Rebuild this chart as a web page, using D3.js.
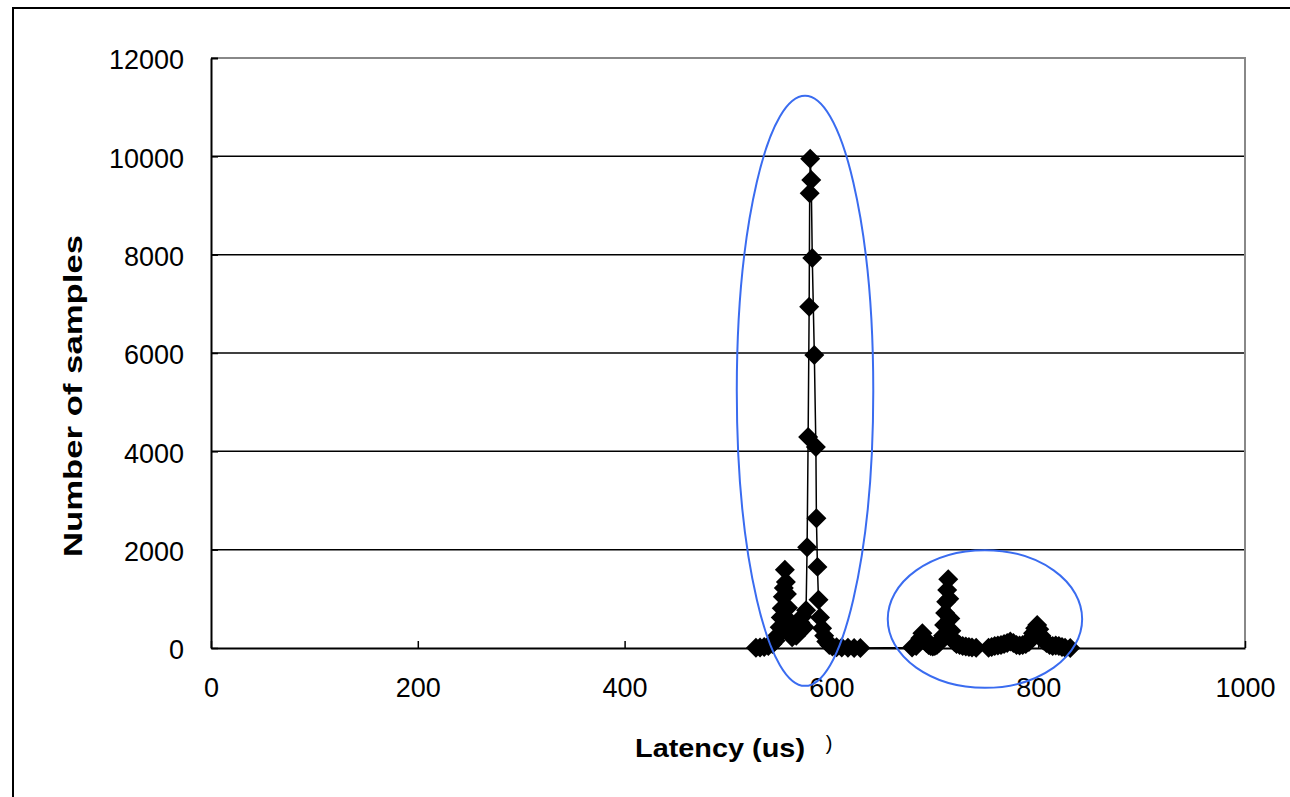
<!DOCTYPE html>
<html>
<head>
<meta charset="utf-8">
<script src="https://cdn.jsdelivr.net/npm/d3@7"></script>
<style>
body { margin: 0; background: #fff; }
svg { display: block; }
text { font-family: "Liberation Sans", Arial, sans-serif; fill: #000; }
</style>
</head>
<body>
<svg></svg>
<script>
// latency bins (us) and sample counts
let latency = [527, 531, 535, 539, 543, 546, 548, 550, 551, 552, 553, 554, 555, 556, 557, 558, 559, 560, 561, 562,
    564, 566, 567, 568, 570, 572, 574, 575.5, 576.5, 577.5, 578.5, 579, 579.5, 580.5, 581.5, 583.5, 585, 585.5,
    586.5, 587.5, 589, 591, 593, 595, 598, 601, 605, 610, 616, 622, 628,
    678, 682, 684, 686, 688, 690, 692, 694, 696, 698, 700, 702, 704, 706, 708, 709, 710, 711, 712, 713, 714, 715,
    716, 717, 719, 721, 724, 727, 730, 733, 736, 740,
    752, 755, 758, 761, 764, 767, 770, 773, 776, 779, 782, 785, 788, 791, 793, 795, 797, 799, 801, 803, 805, 808,
    811, 814, 817, 820, 823, 826, 831];
let samples = [5, 10, 20, 40, 80, 150, 260, 420, 620, 810, 1040, 1220, 1590, 1340, 1100, 820, 560, 400, 300, 220,
    350, 250, 420, 300, 520, 640, 420, 770, 2050, 4290, 6940, 9250, 9950, 9520, 7930, 5960, 4090, 2640,
    1650, 980, 620, 400, 250, 130, 60, 30, 15, 8, 4, 2, 1,
    10, 40, 100, 200, 300, 200, 100, 60, 40, 30, 40, 60, 100, 150, 250, 470, 710, 940, 1180, 1400, 1000, 600,
    350, 200, 120, 80, 60, 40, 30, 20, 10, 5,
    5, 20, 40, 50, 60, 80, 100, 130, 100, 60, 50, 60, 80, 120, 200, 300, 400, 470, 380, 250, 150, 100,
    60, 40, 50, 40, 20, 5, 2];

let xTicks = [0, 200, 400, 600, 800, 1000];
let yTicks = [0, 2000, 4000, 6000, 8000, 10000, 12000];
let xTitle = "Latency (us)";
let yTitle = "Number of samples";

// blue rings drawn round the two groups, in data units
let rings = [
    { x: 574.5, y: 5230, rx: 66, ry: 6000 },
    { x: 748.5, y: 590, rx: 94, ry: 1400 }
];

let width = 1290;
let height = 797;
let plotLeft = 211;
let plotRight = 1245;
let plotTop = 58;
let plotBottom = 648;

let svg = d3.select("svg")
    .attr("width", width)
    .attr("height", height);

let xScale = d3.scaleLinear()
    .domain([0, 1000])
    .range([plotLeft, plotRight]);

let yScale = d3.scaleLinear()
    .domain([0, 12000])
    .range([plotBottom, plotTop]);

// outer frame
svg.append("rect")
    .attr("x", 13)
    .attr("y", 8)
    .attr("width", 1300)
    .attr("height", 820)
    .attr("fill", "none")
    .attr("stroke", "#000")
    .attr("stroke-width", 2);

// grid lines
svg.append("g")
    .selectAll("line")
    .data(yTicks.filter((d) => d > 0 && d < 12000))
    .enter()
    .append("line")
    .attr("x1", plotLeft)
    .attr("x2", plotRight)
    .attr("y1", (d) => yScale(d))
    .attr("y2", (d) => yScale(d))
    .attr("stroke", "#000")
    .attr("stroke-width", 1.5);

// top and right edge of the plot area
svg.append("path")
    .attr("d", "M" + plotLeft + "," + plotTop + "H" + plotRight + "V" + plotBottom)
    .attr("fill", "none")
    .attr("stroke", "#888")
    .attr("stroke-width", 2);

let points = latency.map((d, i) => [d, samples[i]]);

let line = d3.line()
    .x((d) => xScale(d[0]))
    .y((d) => yScale(d[1]));

svg.append("path")
    .datum(points)
    .attr("d", line)
    .attr("fill", "none")
    .attr("stroke", "#000")
    .attr("stroke-width", 1.5);

let marker = d3.symbol().type(d3.symbolSquare).size(200);

svg.append("g")
    .selectAll("path")
    .data(points)
    .enter()
    .append("path")
    .attr("d", marker)
    .attr("fill", "#000")
    .attr("transform", (d) => "translate(" + xScale(d[0]) + "," + yScale(d[1]) + ") rotate(45)");

// axes
let yAxis = d3.axisLeft(yScale)
    .tickValues(yTicks)
    .tickFormat(d3.format("d"))
    .tickSizeInner(-7)
    .tickSizeOuter(0)
    .tickPadding(27);

let yG = svg.append("g")
    .attr("transform", "translate(" + plotLeft + ",0)")
    .call(yAxis);

let xAxis = d3.axisBottom(xScale)
    .tickValues(xTicks)
    .tickFormat(d3.format("d"))
    .tickSizeInner(-7)
    .tickSizeOuter(0)
    .tickPadding(30);

let xG = svg.append("g")
    .attr("transform", "translate(0," + plotBottom + ")")
    .call(xAxis);

[xG, yG].forEach((g) => {
    g.select(".domain").attr("stroke", "#000").attr("stroke-width", 2);
    g.selectAll(".tick line").attr("stroke", "#000").attr("stroke-width", 1.5);
    g.selectAll(".tick text")
        .attr("font-size", 27)
        .attr("font-family", "Liberation Sans, Arial, sans-serif")
        .attr("fill", "#000");
});
yG.selectAll(".tick text").attr("dy", "0.4em");
yG.selectAll(".tick").filter((d) => d === 12000).select("line").attr("stroke-width", 2);

// rings
svg.append("g")
    .selectAll("ellipse")
    .data(rings)
    .enter()
    .append("ellipse")
    .attr("cx", (d) => xScale(d.x))
    .attr("cy", (d) => yScale(d.y))
    .attr("rx", (d) => xScale(d.x + d.rx) - xScale(d.x))
    .attr("ry", (d) => yScale(d.y - d.ry) - yScale(d.y))
    .attr("fill", "none")
    .attr("stroke", "#3a6cf0")
    .attr("stroke-width", 2);

// titles
svg.append("text")
    .attr("x", 720)
    .attr("y", 757)
    .attr("text-anchor", "middle")
    .attr("font-size", 25)
    .attr("font-weight", "bold")
    .attr("textLength", 170)
    .attr("lengthAdjust", "spacingAndGlyphs")
    .text(xTitle);

svg.append("text")
    .attr("transform", "translate(82,396) rotate(-90)")
    .attr("text-anchor", "middle")
    .attr("font-size", 25)
    .attr("font-weight", "bold")
    .attr("textLength", 322)
    .attr("lengthAdjust", "spacingAndGlyphs")
    .text(yTitle);

// stray bracket left in the source picture
svg.append("text")
    .attr("x", 829)
    .attr("y", 750)
    .attr("text-anchor", "middle")
    .attr("font-size", 20)
    .text(")");
</script>
</body>
</html>
